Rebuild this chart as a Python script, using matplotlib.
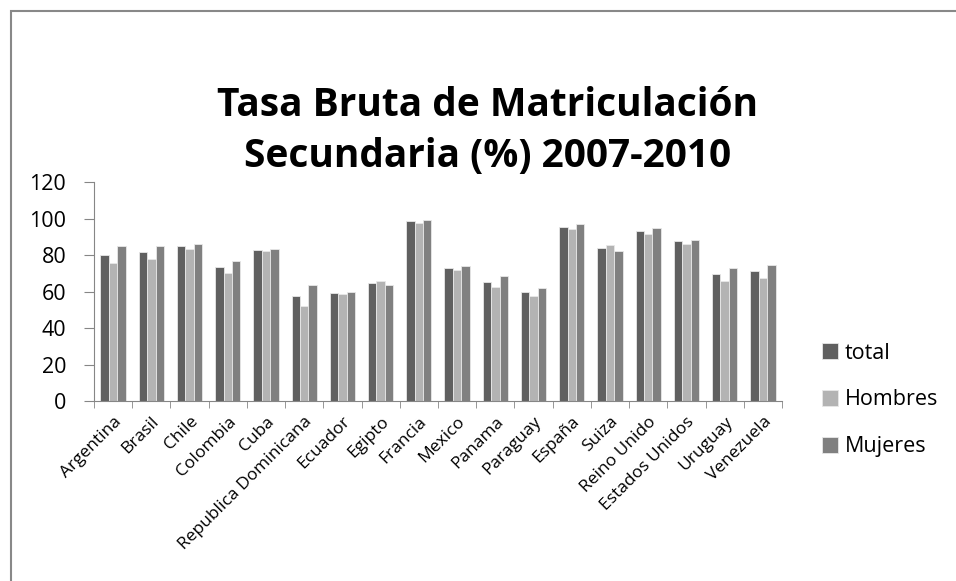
import numpy as np
import matplotlib.pyplot as plt
from matplotlib.patches import Rectangle

paises = ["Argentina", "Brasil", "Chile", "Colombia", "Cuba", "Republica Dominicana",
          "Ecuador", "Egipto", "Francia", "Mexico", "Panama", "Paraguay", "España",
          "Suiza", "Reino Unido", "Estados Unidos", "Uruguay", "Venezuela"]
total = [79.9, 81.4, 84.7, 73.4, 82.7, 57.4, 59.1, 64.6, 98.6, 72.8, 65.3, 59.6,
         95.5, 83.8, 93.1, 87.6, 69.5, 71.0]
hombres = [75.4, 77.7, 83.2, 70.4, 82.1, 51.9, 58.5, 65.7, 97.5, 71.7, 62.4, 57.6,
           94.0, 85.4, 91.6, 86.3, 65.9, 67.3]
mujeres = [84.7, 85.2, 86.2, 76.6, 83.2, 63.3, 59.6, 63.5, 99.3, 74.1, 68.6, 61.8,
           97.1, 82.1, 94.7, 88.5, 72.8, 74.6]

plt.rcParams['font.family'] = ['Open Sans', 'DejaVu Sans']

fig = plt.figure(figsize=(9.56, 5.81), dpi=100)
ax = fig.add_axes([0.0983, 0.3098, 0.7197, 0.3769])

x = np.arange(len(paises))
w = 0.22
kw = dict(edgecolor="#e8e8e8", linewidth=0.6)
ax.bar(x - w, total, w, color="#606060", label="total", **kw)
ax.bar(x, hombres, w, color="#b3b3b3", label="Hombres", **kw)
ax.bar(x + w, mujeres, w, color="#808080", label="Mujeres", **kw)

ax.set_xlim(-0.5, len(paises) - 0.5)
ax.set_ylim(0, 120)
ax.set_yticks(range(0, 121, 20))
ax.tick_params(axis="y", labelsize=15.5, length=7, color="#868686", pad=13)

ax.set_xticks(x)
ax.set_xticklabels(paises, rotation=45, ha="right", rotation_mode="anchor", fontsize=12.5)
ax.tick_params(axis="x", which="major", length=0, pad=9)
ax.set_xticks(np.arange(-0.5, len(paises), 1), minor=True)
ax.tick_params(axis="x", which="minor", length=5, color="#868686")

for s in ["top", "right"]:
    ax.spines[s].set_visible(False)
for s in ["left", "bottom"]:
    ax.spines[s].set_color("#868686")

fig.text(0.51, 0.775, "Tasa Bruta de Matriculación\nSecundaria (%) 2007-2010",
         ha="center", va="center", fontsize=28, fontweight="bold", linespacing=1.4)

ax.legend(loc="center left", bbox_to_anchor=(1.03, 0.005), frameon=False,
          fontsize=15.5, handlelength=0.75, handleheight=0.75, labelspacing=1.2,
          handletextpad=0.3)

fig.patches.append(Rectangle((11 / 956, -0.1), 1.2, 1 - 11 / 581 + 0.1,
                             transform=fig.transFigure, fill=False,
                             edgecolor="#888888", linewidth=1.5))

fig.savefig("out.png", dpi=100)
